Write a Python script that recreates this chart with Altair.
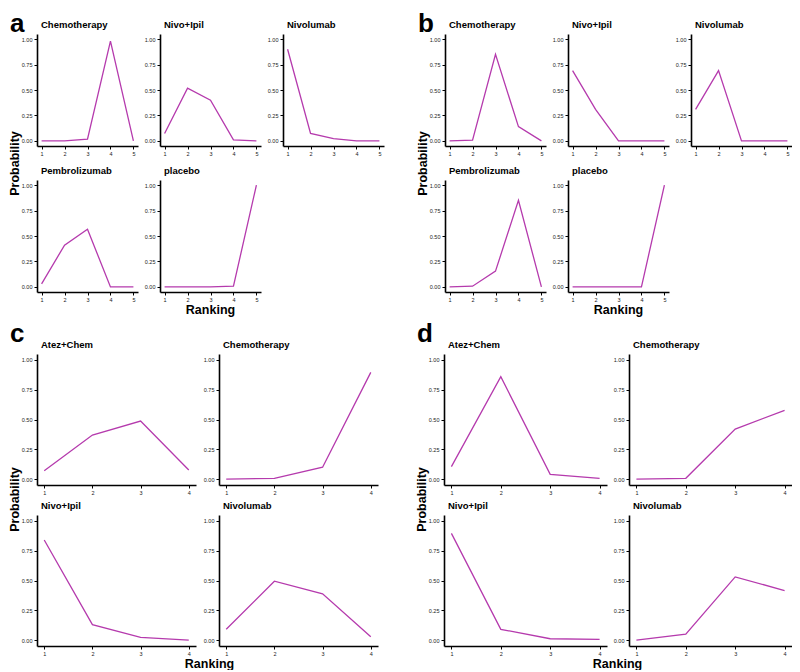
import altair as alt
import pandas as pd

# ---------------- data ----------------
ranks5 = [1, 2, 3, 4, 5]
ranks4 = [1, 2, 3, 4]

a_treatments = ["Chemotherapy", "Nivo+Ipil", "Nivolumab", "Pembrolizumab", "placebo"]
a_chemotherapy = [0.0, 0.0, 0.017, 0.98, 0.0]
a_nivo_ipil = [0.073, 0.518, 0.40, 0.01, 0.0]
a_nivolumab = [0.90, 0.073, 0.023, 0.0, 0.0]
a_pembrolizumab = [0.03, 0.41, 0.566, 0.0, 0.0]
a_placebo = [0.0, 0.0, 0.0, 0.007, 1.0]

b_treatments = ["Chemotherapy", "Nivo+Ipil", "Nivolumab", "Pembrolizumab", "placebo"]
b_chemotherapy = [0.0, 0.007, 0.85, 0.14, 0.0]
b_nivo_ipil = [0.69, 0.31, 0.0, 0.0, 0.0]
b_nivolumab = [0.31, 0.69, 0.0, 0.0, 0.0]
b_pembrolizumab = [0.0, 0.007, 0.155, 0.85, 0.0]
b_placebo = [0.0, 0.0, 0.0, 0.0, 1.0]

c_treatments = ["Atez+Chem", "Chemotherapy", "Nivo+Ipil", "Nivolumab"]
c_atez_chem = [0.07, 0.369, 0.487, 0.076]
c_chemotherapy = [0.0, 0.006, 0.099, 0.896]
c_nivo_ipil = [0.84, 0.129, 0.022, 0.0]
c_nivolumab = [0.09, 0.494, 0.388, 0.028]

d_treatments = ["Atez+Chem", "Chemotherapy", "Nivo+Ipil", "Nivolumab"]
d_atez_chem = [0.104, 0.859, 0.039, 0.006]
d_chemotherapy = [0.0, 0.006, 0.42, 0.577]
d_nivo_ipil = [0.896, 0.09, 0.011, 0.006]
d_nivolumab = [0.0, 0.05, 0.53, 0.416]

y_ticks = [0.0, 0.25, 0.5, 0.75, 1.0]

# ---------------- style ----------------
LINE = "#B53AAD"
FONT = "Liberation Sans"


def cell(name, ranks, probs, w, h, ytitle=None, xtitle=None):
    df = pd.DataFrame({"Ranking": ranks, "Probability": probs})
    n = len(ranks)
    pad = (n - 1) * 0.05
    xk = dict(values=ranks, format="d", title=None)
    yk = dict(values=y_ticks, format=".2f", title=None)
    if ytitle is not None:
        yk.update(title="Probability", titleX=ytitle[0], titleY=ytitle[1],
                  titleAngle=270, titleAlign="center", titleBaseline="middle",
                  titleFontSize=12.5, titleFontWeight="bold", titleFont=FONT,
                  titleColor="black")
    if xtitle is not None:
        xk.update(title="Ranking", titleX=xtitle[0], titleY=xtitle[1],
                  titleAlign="center", titleBaseline="middle",
                  titleFontSize=12.5, titleFontWeight="bold", titleFont=FONT,
                  titleColor="black")
    return alt.Chart(df).mark_line(color=LINE, strokeWidth=1.3).encode(
        x=alt.X("Ranking:Q",
                scale=alt.Scale(domain=[1 - pad, n + pad], nice=False, zero=False),
                axis=alt.Axis(**xk)),
        y=alt.Y("Probability:Q",
                scale=alt.Scale(domain=[-0.05, 1.05], nice=False, zero=False),
                axis=alt.Axis(**yk)),
    ).properties(
        width=w, height=h,
        title=alt.TitleParams(text=name, anchor="start", frame="group",
                              fontSize=9.5, fontWeight="bold", font=FONT,
                              color="black", offset=5, dx=4),
    )


def panel(letter, treatments, series, ranks, w, h, cols, colgap, rowgap,
          ypos, xpos, xcell, loff):
    cells = []
    for i, (t, s) in enumerate(zip(treatments, series)):
        cells.append(cell(t, ranks, s, w, h,
                          ytitle=ypos if i == 0 else None,
                          xtitle=xpos if i == xcell else None))
    return alt.concat(
        *cells, columns=cols, bounds="flush",
        spacing={"row": rowgap, "column": colgap},
        title=alt.TitleParams(text=letter, anchor="start", frame="bounds",
                              fontSize=26, fontWeight="bold", font=FONT,
                              color="black", offset=loff, dx=2),
    )


pa = panel("a", a_treatments,
           [a_chemotherapy, a_nivo_ipil, a_nivolumab, a_pembrolizumab, a_placebo],
           ranks5, 101, 112, 3, 22, 34, (-23, 129), (173, 17), 3, -17)
pb = panel("b", b_treatments,
           [b_chemotherapy, b_nivo_ipil, b_nivolumab, b_pembrolizumab, b_placebo],
           ranks5, 101, 112, 3, 22, 34, (-23, 129), (173, 17), 3, -17)
pc = panel("c", c_treatments,
           [c_atez_chem, c_chemotherapy, c_nivo_ipil, c_nivolumab],
           ranks4, 159, 131, 2, 23, 30, (-23, 145), (172, 17), 2, -7)
pd_ = panel("d", d_treatments,
            [d_atez_chem, d_chemotherapy, d_nivo_ipil, d_nivolumab],
            ranks4, 163, 131, 2, 22, 30, (-23, 145), (173, 17), 2, -7)

top = alt.hconcat(pa, pb, spacing=32)
bottom = alt.hconcat(pc, pd_, spacing=37)

chart = alt.vconcat(
    top, bottom, spacing=4,
    padding={"left": 0, "top": 2, "right": 0, "bottom": 0},
).configure_view(
    stroke=None
).configure_axis(
    grid=False,
    domainColor="black", domainWidth=1.6,
    tickColor="black", tickSize=3, tickWidth=1,
    labelFont=FONT, labelFontSize=5.5, labelColor="#222222", labelPadding=2,
).configure_concat(spacing=20)

chart.save("out.html", embed_options={"renderer": "svg", "actions": False})
